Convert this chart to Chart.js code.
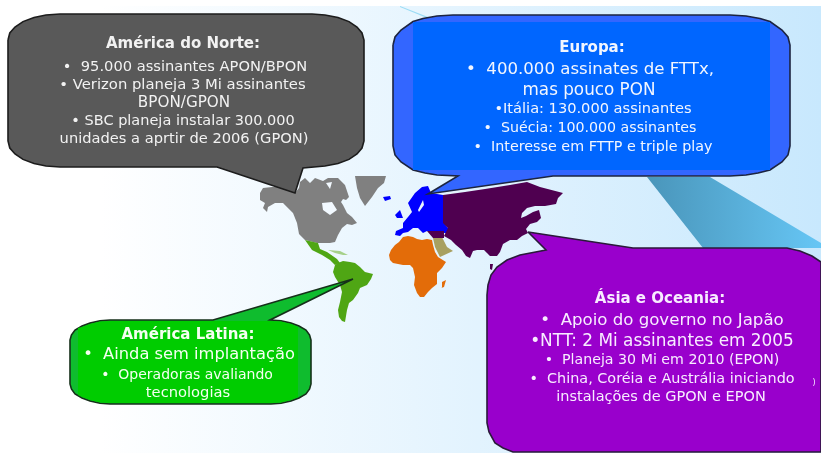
<!DOCTYPE html>
<html>
<head>
<meta charset="utf-8">
<title>FTTx no mundo</title>
<script src="https://cdn.jsdelivr.net/npm/chart.js@4"></script>
<style>
  html, body { margin: 0; padding: 0; background: #fff; }
  canvas { display: block; filter: blur(0.4px); }
</style>
</head>
<body>
<canvas id="mapChart" width="821" height="453"></canvas>
<script>
// outlines, as [x, y]
const northAmerica = [[260,193],[263,188],[272,187],[280,187],[287,189],[295,193],[299,188],[300,182],[305,178],[310,183],[315,178],[323,181],[328,178],[338,178],[345,185],[349,197],[346,200],[343,199],[341,202],[343,205],[347,213],[352,217],[357,223],[352,225],[347,224],[342,228],[338,235],[335,242],[330,243],[317,243],[305,240],[299,234],[297,223],[293,213],[283,203],[275,203],[268,207],[267,212],[263,208],[265,203],[260,200],[260,193]];
const hudsonBay = [[322,203],[332,202],[337,210],[330,215],[323,210],[322,203]];
const arcticGap = [[326,183],[332,182],[330,189],[326,183]];
const greenland = [[355,176],[386,176],[384,183],[378,188],[372,197],[365,206],[360,198],[357,188],[355,176]];
const iceland = [[383,197],[390,196],[391,199],[385,201],[383,197]];
const centralAmerica = [[305,240],[318,243],[320,249],[327,252],[337,259],[340,263],[335,265],[330,260],[322,255],[312,250],[305,240]];
const caribbean = [[328,250],[340,251],[348,255],[343,255],[335,253],[328,250]];
const southAmerica = [[335,265],[338,263],[343,261],[350,262],[355,263],[360,267],[365,272],[373,274],[371,279],[367,285],[360,288],[358,293],[353,300],[349,303],[347,310],[345,322],[342,321],[339,317],[338,310],[340,302],[342,292],[340,285],[335,277],[333,272],[335,265]];
const africa = [[389,255],[391,250],[395,245],[399,242],[403,237],[408,236],[413,237],[417,239],[422,240],[427,239],[432,240],[433,245],[435,252],[438,257],[446,262],[442,268],[437,273],[437,280],[437,284],[432,288],[428,292],[424,297],[420,297],[417,293],[414,285],[415,277],[413,268],[410,265],[403,265],[398,264],[393,263],[390,260],[389,255]];
const madagascar = [[442,282],[446,280],[444,287],[441,288],[442,282]];
const europe = [[395,235],[396,231],[403,228],[403,223],[408,217],[412,212],[408,203],[415,193],[422,187],[428,186],[431,193],[443,195],[444,223],[448,228],[449,234],[440,232],[437,232],[427,231],[423,233],[418,228],[413,228],[408,232],[403,233],[400,236],[395,235]];
const baltic = [[423,200],[424,205],[419,212],[418,210],[423,200]];
const britain = [[395,215],[400,210],[403,218],[397,218],[395,215]];
const middleEast = [[427,231],[444,231],[444,238],[433,238],[427,231]];
const arabia = [[433,238],[442,237],[447,247],[453,251],[440,257],[435,247],[433,238]];
const asia = [[443,195],[465,192],[485,189],[510,185],[527,182],[540,187],[563,193],[558,198],[556,204],[545,206],[535,206],[527,208],[522,213],[521,218],[526,216],[533,212],[539,210],[541,218],[537,222],[530,224],[526,229],[528,233],[522,236],[517,240],[510,240],[503,244],[500,252],[497,256],[490,256],[487,253],[484,250],[477,250],[473,251],[470,258],[466,256],[462,250],[456,245],[451,240],[444,236],[448,228],[443,223],[443,195]];
const indonesia = [[490,264],[493,264],[492,270],[490,269],[490,264]];

const northBubble = [[8,40],[9.8,33],[15,27],[23,21.6],[34,17.5],[46,15],[60,14],[312,14],[325,15],[338,17.5],[349,21.6],[357,27],[362,33],[364,40],[364,141],[362,148],[357,154],[349,159.4],[338,163.5],[325,166],[303,168],[295,193],[217,167],[60,167],[46,166],[34,163.5],[23,159.4],[15,154],[9.8,148],[8,141],[8,40]];
const europeBubble = [[393,45],[395,37],[401,30],[413,21.5],[423,18.5],[437,16],[453,15],[730,15],[746,16],[760,18.5],[770,21.5],[782,30],[788,37],[790,45],[790,146],[788,155],[782,162],[770,170],[758,173],[746,175],[730,176],[553,176],[428,194],[458,176],[437,175],[425,173],[413,170],[401,162],[395,155],[393,146],[393,45]];
const asiaBubble = [[528,232],[633,248],[787,248],[800,251],[812,256],[821,262],[821,452],[513,452],[503,448],[495,443],[489,432],[487,423],[487,295],[488,285],[491,275],[497,267],[507,260],[520,255],[546,250],[528,232]];
const latinBubble = [[353,279],[270,320],[281,320.7],[291,323],[299,326],[306,330],[309.6,335],[311,340],[311,384],[309.6,389],[306,394],[299,398],[291,401],[281,403.3],[271,404],[110,404],[100,403.3],[90,401],[82,398],[75,394],[71.4,389],[70,384],[70,340],[71.4,335],[75,330],[82,326],[90,323],[100,320.7],[110,320],[213,320],[353,279]];

const europeInner = [[413,22],[770,22],[770,170],[413,170],[413,22]];
const latinInner = [[78,328],[82,327],[90,324],[100,321.5],[110,321],[271,321],[281,321.5],[291,324],[298,327],[298,397],[291,400],[281,402.5],[271,403],[110,403],[100,402.5],[90,400],[82,397],[78,395],[78,328]];
const rayLarge = [[647,177],[710,177],[821,243],[821,248],[703,248],[647,177]];
const rayThin = [[400,6],[428,17],[427,18],[400,7],[400,6]];

const northText = ['América do Norte:', '•  95.000 assinantes APON/BPON', '• Verizon planeja 3 Mi assinantes', 'BPON/GPON', '• SBC planeja instalar 300.000', 'unidades a aprtir de 2006 (GPON)'];
const europeText = ['Europa:', '•  400.000 assinates de FTTx,', 'mas pouco PON', '•Itália: 130.000 assinantes', '•  Suécia: 100.000 assinantes', '•  Interesse em FTTP e triple play'];
const asiaText = ['Ásia e Oceania:', '•  Apoio do governo no Japão', '•NTT: 2 Mi assinantes em 2005', '•  Planeja 30 Mi em 2010 (EPON)', '•  China, Coréia e Austrália iniciando', 'instalações de GPON e EPON'];
const latinText = ['América Latina:', '•  Ainda sem implantação', '•  Operadoras avaliando', 'tecnologias'];

// top-most shape goes last here
const shapes = [
    { pts: rayThin, color: '#9adcf5' },
    { pts: rayLarge, color: 'ray' },
    { pts: northAmerica, color: '#808080' },
    { pts: hudsonBay, color: '#f2f9ff' },
    { pts: arcticGap, color: '#f2f9ff' },
    { pts: greenland, color: '#808080' },
    { pts: iceland, color: '#0000ff' },
    { pts: centralAmerica, color: '#4fa614' },
    { pts: caribbean, color: '#a6d08a' },
    { pts: southAmerica, color: '#4fa614' },
    { pts: africa, color: '#e36c09' },
    { pts: madagascar, color: '#e36c09' },
    { pts: arabia, color: '#a8a060' },
    { pts: europe, color: '#0000ff' },
    { pts: baltic, color: '#e8f4ff' },
    { pts: britain, color: '#0000ff' },
    { pts: asia, color: '#4f0050' },
    { pts: middleEast, color: '#4f0050' },
    { pts: indonesia, color: '#4f0050' },
    { pts: northBubble, color: '#595959', edge: '#1c1c1c' },
    { pts: europeBubble, color: '#3366ff', edge: '#1c2440' },
    { pts: europeInner, color: '#0066ff' },
    { pts: asiaBubble, color: '#9900cc', edge: '#2a1a3a' },
    { pts: latinBubble, color: '#0fbc2e', edge: '#16301a' },
    { pts: latinInner, color: '#00cc00' }
];

const textBlocks = [
    { lines: northText, color: '#f2f2f2', x: [183,185,182.5,184,183,184], y: [48,71,89,107,125,143], size: [15,14.65,14.8,15.2,14.5,14.65] },
    { lines: europeText, color: '#f2f6ff', x: [592,590,589,593,590,593], y: [52,74,95,113,132,151], size: [15,16.6,16.8,14.6,14.2,14.3] },
    { lines: asiaText, color: '#f8ecff', x: [660,662,662,662,662,661], y: [303,325,346,364,383,401], size: [15,16.6,16.9,14.2,14.4,14.5] },
    { lines: latinText, color: '#f4fff0', x: [188,189,187,188], y: [339,359,379,397], size: [15,16.3,14,14.7] }
];

const mapPlugin = {
    id: 'mapPlugin',
    beforeDraw: function (chart) {
        var c = chart.ctx, sx = chart.scales.x, sy = chart.scales.y;
        c.save();
        var g = c.createLinearGradient(sx.getPixelForValue(100), 0, sx.getPixelForValue(821), 0);
        g.addColorStop(0, '#ffffff');
        g.addColorStop(1, '#c8e8fd');
        c.fillStyle = g;
        c.fillRect(sx.getPixelForValue(0), sy.getPixelForValue(6), 821, 447);
        c.restore();
    },
    afterDraw: function (chart) {
        var c = chart.ctx, sx = chart.scales.x, sy = chart.scales.y;
        c.save();
        c.textAlign = 'center';
        textBlocks.forEach(function (b) {
            c.fillStyle = b.color;
            b.lines.forEach(function (line, i) {
                c.font = (i === 0 ? 'bold ' : '') + b.size[i] + 'px "DejaVu Sans"';
                c.fillText(line, sx.getPixelForValue(b.x[i]), sy.getPixelForValue(b.y[i]));
            });
        });
        c.fillStyle = '#f8ecff';
        c.font = '8px "DejaVu Sans"';
        c.fillText(')', sx.getPixelForValue(814), sy.getPixelForValue(385));
        c.restore();
    }
};

function rayFill(context) {
    var chart = context.chart;
    if (!chart.chartArea) return '#5ab0dc';
    var sx = chart.scales.x;
    var g = chart.ctx.createLinearGradient(sx.getPixelForValue(650), 0, sx.getPixelForValue(821), 0);
    g.addColorStop(0, '#4a96bb');
    g.addColorStop(1, '#66c6f5');
    return g;
}

var ctx = document.getElementById('mapChart').getContext('2d');

var myChart = new Chart(ctx, {
    type: 'scatter',
    data: {
        datasets: shapes.map(function (s, i) {
            return {
                data: s.pts.map(function (p) { return { x: p[0], y: p[1] }; }),
                showLine: true,
                fill: 'shape',
                tension: 0,
                pointRadius: 0,
                backgroundColor: s.color === 'ray' ? rayFill : s.color,
                borderColor: s.edge || 'transparent',
                borderWidth: s.edge ? 1.6 : 0,
                order: shapes.length - i
            };
        })
    },
    plugins: [mapPlugin],
    options: {
        responsive: false,
        animation: false,
        layout: { padding: 0 },
        plugins: {
            legend: { display: false },
            tooltip: { enabled: false }
        },
        scales: {
            x: { type: 'linear', display: false, min: 0, max: 821 },
            y: { type: 'linear', display: false, min: 0, max: 453, reverse: true }
        }
    }
});
</script>
</body>
</html>
